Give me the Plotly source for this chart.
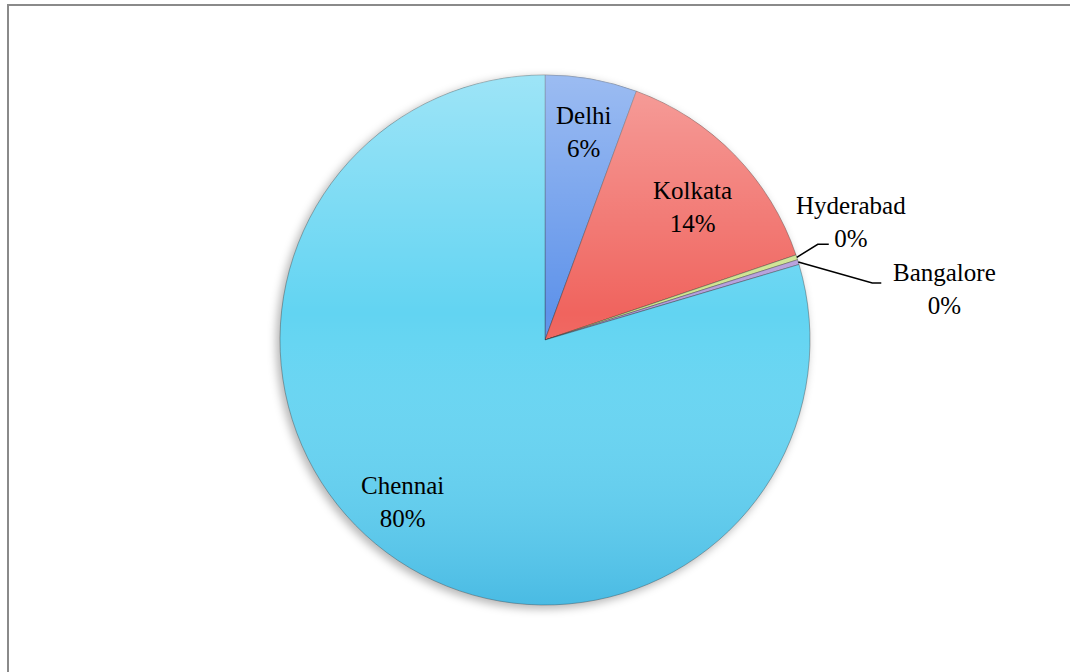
import base64
import math
import plotly.graph_objects as go

# City share data
cities = ["Delhi", "Kolkata", "Hyderabad", "Bangalore", "Chennai"]
shares = [5.6, 14.2, 0.3, 0.3, 79.6]
slice_colors = ["#5F93EA", "#F0645E", "#CDE38E", "#B39CDB", "#62D4F2"]
outside = ["Hyderabad", "Bangalore"]
# inside label placement: (fraction of radius, angular nudge in degrees)
inside_label_pos = {"Delhi": (0.80, 0.5), "Kolkata": (0.75, 2.2), "Chennai": (0.815, 4.5)}

W, H = 1070, 672
cx, cy, r = 545, 340, 265
FONT = dict(family="Liberation Serif", size=25, color="black")


def px(x):
    return x / W


def py(y):
    return 1 - y / H


def edge_point(frac_angle, radius, nudge_deg=0.0):
    a = 2 * math.pi * frac_angle + math.radians(nudge_deg)
    return cx + radius * math.sin(a), cy - radius * math.cos(a)


fig = go.Figure(
    go.Pie(
        labels=cities,
        values=shares,
        sort=False,
        direction="clockwise",
        rotation=0,
        marker=dict(colors=slice_colors, line=dict(color="rgba(40,40,40,0.45)", width=0.8)),
        textinfo="none",
        domain=dict(x=[px(cx - r), px(cx + r)], y=[py(cy + r), py(cy - r)]),
        showlegend=False,
        hoverinfo="label+percent",
    )
)


def label(x, y, text):
    return dict(x=px(x), y=py(y), xref="paper", yref="paper", text=text,
                showarrow=False, font=FONT, align="center",
                xanchor="center", yanchor="middle")


# Slice labels: placed along each slice's mid-angle
total = sum(shares)
annotations, shapes = [], []
cum = 0.0
for name, v in zip(cities, shares):
    mid = (cum + v / 2) / total
    cum += v
    text = f"{name}<br>{round(v / total * 100)}%"
    if name not in outside:
        frac, nudge = inside_label_pos[name]
        lx, ly = edge_point(mid, r * frac, nudge)
        annotations.append(label(lx, ly, text))
    else:
        ex, ey = edge_point(mid, r)
        if name == "Hyderabad":
            elbow = (ex + 21, ey - 13)
            end = (elbow[0] + 11, elbow[1])
            tx, ty = end[0] + 22, end[1] - 22
        else:
            elbow = (ex + 74, ey + 21)
            end = (elbow[0] + 9, elbow[1])
            tx, ty = end[0] + 63, end[1] + 6
        shapes.append(dict(
            type="path", xref="paper", yref="paper",
            path=f"M {px(ex)},{py(ey)} L {px(elbow[0])},{py(elbow[1])} L {px(end[0])},{py(end[1])}",
            line=dict(color="black", width=1.5),
        ))
        annotations.append(label(tx, ty, text))

# Chart frame
shapes.append(dict(type="rect", xref="paper", yref="paper",
                   x0=px(8), x1=1.05, y0=-0.05, y1=py(5),
                   line=dict(color="#8a8a8a", width=2)))

# Soft shading over the disc and a drop shadow beneath it
shade_svg = (
    '<svg xmlns="http://www.w3.org/2000/svg" width="530" height="530" viewBox="0 0 530 530">'
    '<defs><linearGradient id="g" x1="0" y1="0" x2="0" y2="1">'
    '<stop offset="0" stop-color="#ffffff" stop-opacity="0.38"/>'
    '<stop offset="0.45" stop-color="#ffffff" stop-opacity="0"/>'
    '<stop offset="1" stop-color="#1c8cc8" stop-opacity="0.35"/>'
    '</linearGradient></defs>'
    '<circle cx="265" cy="265" r="265" fill="url(#g)"/></svg>'
)
shadow_svg = (
    '<svg xmlns="http://www.w3.org/2000/svg" width="560" height="560" viewBox="0 0 560 560">'
    '<defs><filter id="b"><feGaussianBlur stdDeviation="4"/></filter></defs>'
    '<circle cx="277" cy="283" r="266" fill="#000" fill-opacity="0.28" filter="url(#b)"/></svg>'
)


def uri(svg):
    return "data:image/svg+xml;base64," + base64.b64encode(svg.encode()).decode()


images = [
    dict(source=uri(shadow_svg), xref="paper", yref="paper",
         x=px(cx - 280), y=py(cy - 280), sizex=560 / W, sizey=560 / H,
         xanchor="left", yanchor="top", sizing="stretch", layer="below"),
    dict(source=uri(shade_svg), xref="paper", yref="paper",
         x=px(cx - r), y=py(cy - r), sizex=2 * r / W, sizey=2 * r / H,
         xanchor="left", yanchor="top", sizing="stretch", layer="above"),
]

fig.update_layout(
    width=W,
    height=H,
    margin=dict(l=0, r=0, t=0, b=0),
    paper_bgcolor="white",
    plot_bgcolor="rgba(0,0,0,0)",
    annotations=annotations,
    shapes=shapes,
    images=images,
)

fig.write_html("out.html")
